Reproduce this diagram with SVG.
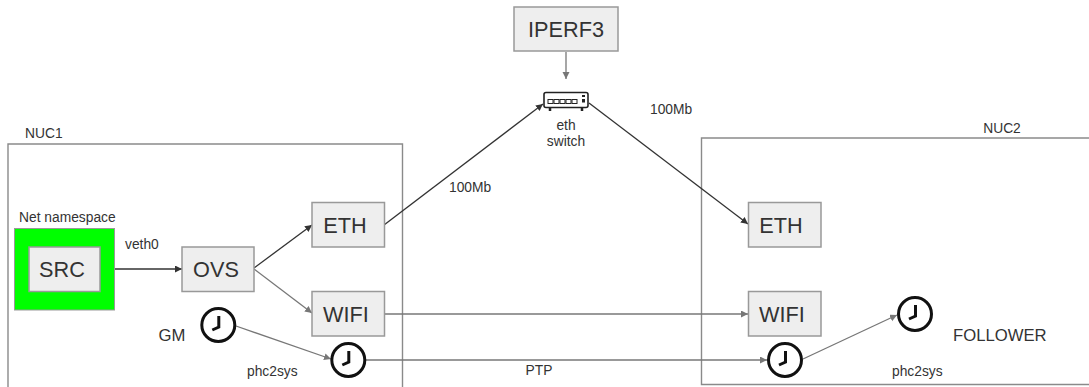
<svg xmlns="http://www.w3.org/2000/svg" width="1089" height="387" viewBox="0 0 1089 387">
<style>
text{font-family:"Liberation Sans",Arial,sans-serif;fill:#333}
.box{fill:#eee;stroke:#999;stroke-width:1.5}
.big{font-size:21.700px;text-anchor:middle}
.mid{font-size:16.700px}
.sm{font-size:13.800px}
.c{text-anchor:middle}
.frame{fill:none;stroke:#8a8a8a;stroke-width:1.4}
.clock{fill:#fff;stroke:#111;stroke-width:3}
.hand{fill:none;stroke:#111;stroke-width:3}
.dk{fill:none;stroke:#333;stroke-width:1.3;marker-end:url(#ad)}
.gr{fill:none;stroke:#777;stroke-width:1.3;marker-end:url(#ag)}
</style>
<defs>
<marker id="ad" markerUnits="userSpaceOnUse" markerWidth="8" markerHeight="8" refX="7" refY="3.500" orient="auto"><path d="M0 0L7 3.500L0 7z" fill="#333"/></marker>
<marker id="ag" markerUnits="userSpaceOnUse" markerWidth="8" markerHeight="8" refX="7" refY="3.500" orient="auto"><path d="M0 0L7 3.500L0 7z" fill="#777"/></marker>
<g id="clk"><circle class="clock" r="16.500"/><path class="hand" d="M0.500 -9V2L-6 5"/></g>
</defs>
<rect width="1089" height="387" fill="#fff"/>
<g id="nuc1"><path class="frame" d="M8 387V144H402.500V387"/><text class="sm" x="25" y="138">NUC1</text></g>
<g id="nuc2"><path class="frame" d="M1089 138H701.500V384.500H1089"/><text class="sm c" x="1002" y="133">NUC2</text></g>
<g id="connectors">
<path class="dk" d="M100 269H182"/>
<path class="dk" d="M254 268L312 225"/>
<path class="gr" d="M254 269L312 313"/>
<path class="dk" d="M384 225L543 104"/>
<path class="dk" d="M589 103L748 224"/>
<path class="gr" d="M566 52V79"/>
<path class="gr" d="M384 314H748"/>
<path class="gr" d="M236 326L331 359"/>
<path class="gr" d="M366 360H767"/>
<path class="gr" d="M803 359L897 315"/>
</g>
<g id="netns"><rect x="14.500" y="228.500" width="100" height="81.500" fill="#0f0" stroke="#999" stroke-width="1"/><text class="sm" x="19" y="222">Net namespace</text></g>
<g id="src"><rect class="box" x="29" y="247" width="71" height="44.500"/><text class="big" x="62" y="277">SRC</text></g>
<g id="ovs"><rect class="box" x="182" y="247" width="72" height="44.500"/><text class="big" x="216" y="277">OVS</text></g>
<g id="eth1"><rect class="box" x="312" y="202.500" width="72.500" height="44.500"/><text class="big" x="345" y="233">ETH</text></g>
<g id="wifi1"><rect class="box" x="312" y="291.500" width="72.500" height="44.500"/><text class="big" x="346" y="322">WIFI</text></g>
<g id="eth2"><rect class="box" x="748.500" y="202.500" width="72.500" height="44.500"/><text class="big" x="781" y="233">ETH</text></g>
<g id="wifi2"><rect class="box" x="748.500" y="291.500" width="72.500" height="44.500"/><text class="big" x="782" y="322">WIFI</text></g>
<g id="iperf3"><rect class="box" x="514" y="7" width="104" height="44"/><text class="big" x="566" y="37">IPERF3</text></g>
<g id="switch">
<rect x="544" y="92.500" width="44" height="15" rx="2" fill="#fff" stroke="#222" stroke-width="1.600"/>
<path d="M550 108v3M582 108v3" stroke="#222" stroke-width="2.500" fill="none"/>
<g fill="#fff" stroke="#222" stroke-width="1"><rect x="548" y="99.500" width="5" height="4"/><rect x="554" y="99.500" width="5" height="4"/><rect x="560" y="99.500" width="5" height="4"/><rect x="566" y="99.500" width="5" height="4"/><rect x="572" y="99.500" width="5" height="4"/></g>
<rect x="582" y="95" width="3" height="2" fill="#222"/><rect x="582" y="99" width="3" height="3.500" fill="#222"/>
<text class="sm c" x="566" y="130">eth</text><text class="sm c" x="566" y="146">switch</text>
</g>
<g id="clock-gm"><use href="#clk" x="218.300" y="325"/><text class="mid" x="158.500" y="341">GM</text></g>
<g id="clock-nuc1"><use href="#clk" x="348.300" y="360"/></g>
<g id="clock-nuc2"><use href="#clk" x="785" y="360"/></g>
<g id="clock-follower"><use href="#clk" x="915" y="314"/><text class="mid" x="953" y="341">FOLLOWER</text></g>
<g id="labels">
<text class="sm" x="125" y="249">veth0</text>
<text class="sm" x="449" y="192">100Mb</text>
<text class="sm" x="650" y="114">100Mb</text>
<text class="sm" x="247" y="376">phc2sys</text>
<text class="sm" x="892" y="376">phc2sys</text>
<text class="sm c" x="539" y="375">PTP</text>
</g>
</svg>
